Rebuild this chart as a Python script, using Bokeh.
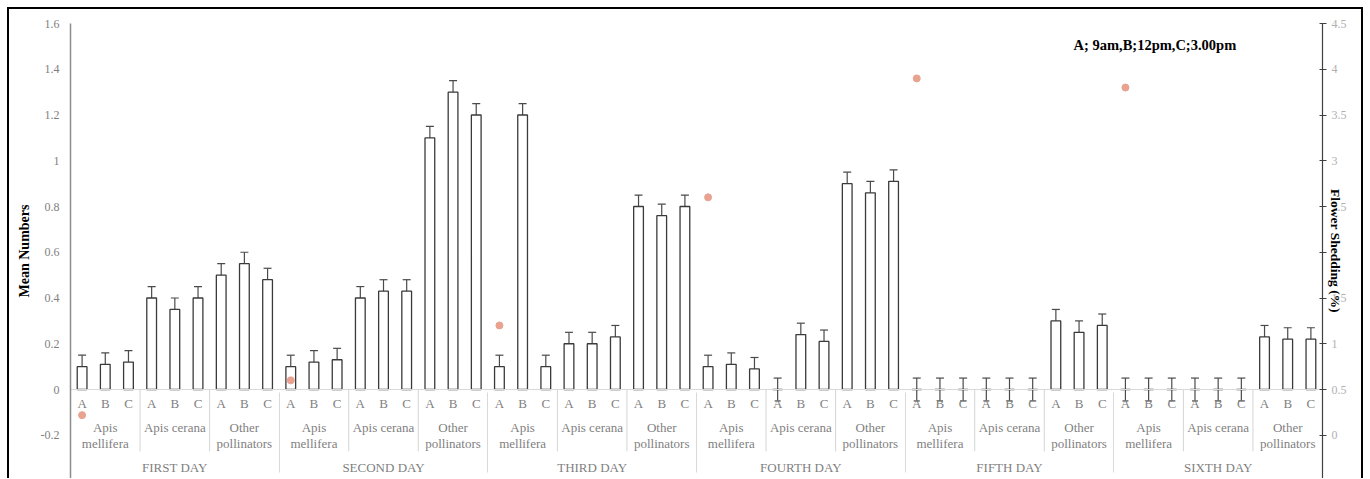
from bokeh.plotting import figure
from bokeh.models import (FactorRange, Range1d, LinearAxis, CategoricalAxis, FixedTicker,
                          Whisker, TeeHead, ColumnDataSource, Label)
from bokeh.embed import file_html
from bokeh.resources import INLINE

# ---------------- data ----------------
days = ["FIRST DAY", "SECOND DAY", "THIRD DAY", "FOURTH DAY", "FIFTH DAY", "SIXTH DAY"]
groups = ["Apis\nmellifera", "Apis cerana", "Other\npollinators"]
times = ["A", "B", "C"]

# mean numbers per day: mellifera A,B,C | cerana A,B,C | other A,B,C
mean_first = [0.10, 0.11, 0.12, 0.40, 0.35, 0.40, 0.50, 0.55, 0.48]
mean_second = [0.10, 0.12, 0.13, 0.40, 0.43, 0.43, 1.10, 1.30, 1.20]
mean_third = [0.10, 1.20, 0.10, 0.20, 0.20, 0.23, 0.80, 0.76, 0.80]
mean_fourth = [0.10, 0.11, 0.09, 0.00, 0.24, 0.21, 0.90, 0.86, 0.91]
mean_fifth = [0.00, 0.00, 0.00, 0.00, 0.00, 0.00, 0.30, 0.25, 0.28]
mean_sixth = [0.00, 0.00, 0.00, 0.00, 0.00, 0.00, 0.23, 0.22, 0.22]

err_first = [0.05, 0.05, 0.05, 0.05, 0.05, 0.05, 0.05, 0.05, 0.05]
err_second = [0.05, 0.05, 0.05, 0.05, 0.05, 0.05, 0.05, 0.05, 0.05]
err_third = [0.05, 0.05, 0.05, 0.05, 0.05, 0.05, 0.05, 0.05, 0.05]
err_fourth = [0.05, 0.05, 0.05, 0.05, 0.05, 0.05, 0.05, 0.05, 0.05]
err_fifth = [0.05, 0.05, 0.05, 0.05, 0.05, 0.05, 0.05, 0.05, 0.05]
err_sixth = [0.05, 0.05, 0.05, 0.05, 0.05, 0.05, 0.05, 0.05, 0.05]

# flower shedding (%) per day (secondary axis)
shedding = [0.22, 0.60, 1.20, 2.60, 3.90, 3.80]

left_ticks = [-0.2, 0, 0.2, 0.4, 0.6, 0.8, 1.0, 1.2, 1.4, 1.6]
left_labels = ["-0.2", "0", "0.2", "0.4", "0.6", "0.8", "1", "1.2", "1.4", "1.6"]
right_ticks = [0, 0.5, 1.0, 1.5, 2.0, 2.5, 3.0, 3.5, 4.0, 4.5]
right_labels = ["0", "0.5", "1", "1.5", "2", "2.5", "3", "3.5", "4", "4.5"]

legend_text = "A; 9am,B;12pm,C;3.00pm"
left_title = "Mean Numbers"
right_title = "Flower Shedding (%)"

# ---------------- build ----------------
means = mean_first + mean_second + mean_third + mean_fourth + mean_fifth + mean_sixth
errs = err_first + err_second + err_third + err_fourth + err_fifth + err_sixth
factors = [(d, g, t) for d in days for g in groups for t in times]

src = ColumnDataSource(dict(
    x=factors,
    top=means,
    upper=[m + e for m, e in zip(means, errs)],
    lower=[m - e for m, e in zip(means, errs)],
))

SERIF = "Liberation Serif"
y_lo, y_hi = -0.389, 1.6

x_range = FactorRange(*factors, factor_padding=0, subgroup_padding=0,
                      group_padding=0, range_padding=0)

p = figure(x_range=x_range, y_range=Range1d(y_lo, y_hi),
           frame_width=1252, frame_height=455,
           min_border_left=61, min_border_right=39, min_border_top=14, min_border_bottom=0,
           x_axis_location=None, output_backend="svg", toolbar_location=None)
p.extra_y_ranges = {"shed": Range1d(0.5 + y_lo * 2.5, 0.5 + y_hi * 2.5)}
p.outline_line_color = None
p.xgrid.visible = False
p.ygrid.visible = False
p.styles = {"margin-left": "7px", "margin-top": "7px",
            "border-top": "2px solid black", "border-left": "2px solid black",
            "border-right": "2px solid black"}

# left axis
ya = p.yaxis[0]
ya.ticker = FixedTicker(ticks=left_ticks)
ya.major_label_overrides = dict(zip(left_ticks, left_labels))
ya.major_tick_line_color = None
ya.major_tick_in = 0
ya.major_tick_out = 0
ya.minor_tick_line_color = None
ya.axis_line_color = "#8c8c8c"
ya.axis_line_width = 1.5
ya.major_label_text_font = SERIF
ya.major_label_text_font_size = "12px"
ya.major_label_text_color = "#7f7f7f"
ya.major_label_standoff = 11
ya.axis_label = left_title
ya.axis_label_text_font = SERIF
ya.axis_label_text_font_size = "14px"
ya.axis_label_text_font_style = "bold"
ya.axis_label_text_color = "black"
ya.axis_label_standoff = 6

# right axis
ra = LinearAxis(y_range_name="shed", ticker=FixedTicker(ticks=right_ticks))
ra.major_label_overrides = dict(zip(right_ticks, right_labels))
ra.major_tick_in = 3
ra.major_tick_out = 4
ra.major_tick_line_color = "#404040"
ra.minor_tick_line_color = None
ra.axis_line_color = "#404040"
ra.axis_line_width = 1.2
ra.major_label_text_font = SERIF
ra.major_label_text_font_size = "12px"
ra.major_label_text_color = "#b0b0b0"
ra.major_label_standoff = 5
ra.axis_label = right_title
ra.axis_label_text_font = SERIF
ra.axis_label_text_font_size = "13.5px"
ra.axis_label_text_font_style = "bold"
ra.axis_label_text_color = "black"
ra.axis_label_standoff = -22
p.add_layout(ra, "right")

# category axis fixed at y = 0
xa = CategoricalAxis(fixed_location=0)
xa.axis_line_color = "#d9d9d9"
xa.axis_line_width = 1
xa.major_tick_line_color = None
xa.major_tick_in = 0
xa.major_tick_out = 0
xa.minor_tick_line_color = None
xa.major_label_text_font = SERIF
xa.major_label_text_font_size = "13px"
xa.major_label_text_color = "#7f7f7f"
xa.major_label_standoff = 6
xa.subgroup_text_font = SERIF
xa.subgroup_text_font_size = "13px"
xa.subgroup_text_font_style = "normal"
xa.subgroup_text_color = "#7f7f7f"
xa.subgroup_text_line_height = 1.1
xa.group_text_font = SERIF
xa.group_text_font_size = "13px"
xa.group_text_font_style = "normal"
xa.group_text_color = "#7f7f7f"
xa.group_text_line_height = 1.0
xa.separator_line_color = "#d9d9d9"
xa.separator_line_width = 1
p.add_layout(xa, "below")

# separators between pollinator groups inside each day (synthetic factor coordinates)
n_t = len(times)
n_g = len(groups)
sub_bounds = [float(k * n_t) for k in range(1, len(days) * n_g) if k % n_g != 0]
sep_src = ColumnDataSource(dict(x=sub_bounds, y0=[0.0] * len(sub_bounds),
                                y1=[-0.27] * len(sub_bounds)))
p.segment(x0="x", x1="x", y0="y0", y1="y1", source=sep_src,
          line_color="#d4d4d4", line_width=1)

# bars
p.vbar(x="x", top="top", width=0.42, source=src, fill_color="white",
       line_color="#3a3a3a", line_width=1.3)

# error bars
p.add_layout(Whisker(base="x", upper="upper", lower="lower", source=src,
                     line_color="#4a4a4a", line_width=1.2,
                     upper_head=TeeHead(size=8, line_color="#4a4a4a", line_width=1.2),
                     lower_head=TeeHead(size=6, line_color="#4a4a4a", line_width=1.2)))

# flower shedding dots
dot_x = [(d, groups[0], times[0]) for d in days]
p.scatter(x=dot_x, y=shedding, y_range_name="shed", size=7,
          fill_color="#E8A28F", line_color="#E8A28F")

# time legend note (screen units relative to the plot frame)
p.add_layout(Label(x=1003, y=434, x_units="screen", y_units="screen", text=legend_text,
                   text_font=SERIF, text_font_size="14.5px", text_font_style="bold",
                   text_color="black", text_baseline="middle"))

open("out.html", "w").write(file_html(p, INLINE))
